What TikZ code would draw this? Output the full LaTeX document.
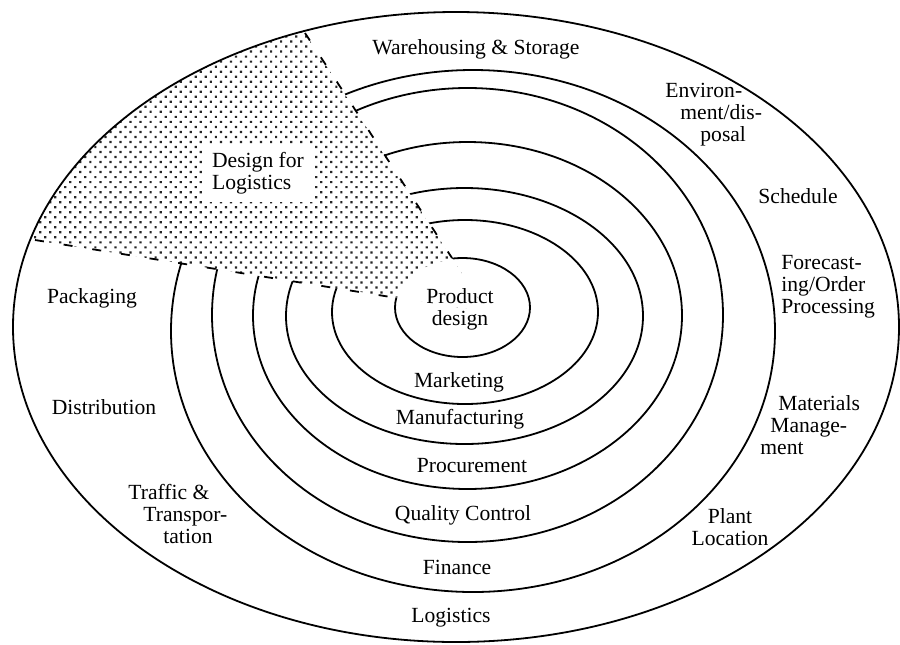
\documentclass[tikz,border=0pt]{standalone}
\usepackage{fontspec}
\setmainfont{Liberation Serif}
\usetikzlibrary{patterns.meta}
\begin{document}
\begin{tikzpicture}[x=0.5pt,y=-0.5pt,
  ring/.style={line width=0.9pt},
  lbl/.style={font=\fontsize{10.8}{11}\selectfont, inner sep=0pt, align=center},
  wedgeline/.style={line width=0.9pt, dash pattern=on 4.5pt off 10pt},
  dotfill/.style={pattern={Dots[distance=3.55pt, radius=0.78pt, angle=45]}, pattern color=black!85}]
\useasboundingbox (0,0) rectangle (900,644);

% corner points of the shaded sector
\coordinate (apex) at (487,312);
\coordinate (uo) at (305,33);
\coordinate (ui) at (452,258);
\coordinate (lo) at (35,240);
\coordinate (li) at (397,298);
\coordinate (ufar) at (250,-51);
\coordinate (lfar) at (-55,226);
\coordinate (cfar) at (-55,-51);

% the nested rings, innermost first
\draw[ring] (462.5,307.5) ellipse [x radius=67.5, y radius=49.5];
\draw[ring] (465,312) ellipse [x radius=133, y radius=92];
\draw[ring] (464.5,316) ellipse [x radius=178.5, y radius=128];
\draw[ring] (467.5,315.5) ellipse [x radius=214.5, y radius=173.5];
\draw[ring] (467.5,315) ellipse [x radius=255.5, y radius=227];
\draw[ring] (473,331) ellipse [x radius=302, y radius=261];

% shaded "design for logistics" sector
\begin{scope}
  \clip (456,327) ellipse [x radius=443, y radius=315];
  \fill[white] (apex) -- (ufar) -- (cfar) -- (lfar) -- cycle;
  \fill[dotfill] (apex) -- (ufar) -- (cfar) -- (lfar) -- cycle;
\end{scope}
\begin{scope}
  \clip (apex) -- (ufar) -- (cfar) -- (lfar) -- cycle;
  \fill[white] (462.5,307.5) ellipse [x radius=66.5, y radius=48.5];
\end{scope}
\draw[wedgeline] (uo) -- (ui);
\draw[wedgeline] (lo) -- (li);

% outer boundary
\draw[ring] (456,327) ellipse [x radius=443, y radius=315];

% labels
\node[lbl, fill=white, inner xsep=5pt, inner ysep=4pt, align=left] (dfl) at (258,173) {Design for\\Logistics};
\node[lbl] (ws) at (476,49) {Warehousing \& Storage};
\node[lbl, align=left, anchor=west] (env) at (665,115) {Environ-\\\hspace*{7.5pt}ment/dis-\\\hspace*{17.5pt}posal};
\node[lbl] (sch) at (798,196) {Schedule};
\node[lbl, align=left, anchor=west] (fop) at (781,287) {Forecast-\\ing/Order\\Processing};
\node[lbl, align=left, anchor=west] (mat) at (760,425) {\hspace*{9pt}Materials\\\hspace*{5pt}Manage-\\ment};
\node[lbl] (pl) at (730,527) {Plant\\Location};
\node[lbl] (pack) at (92,298) {Packaging};
\node[lbl] (dist) at (104,407) {Distribution};
\node[lbl, align=left, anchor=west] (tt) at (128,514) {Traffic \&\\\hspace*{7.5pt}Transpor-\\\hspace*{17.5pt}tation};
\node[lbl] (pd) at (460,309) {Product\\design};
\node[lbl] (mkt) at (459,382) {Marketing};
\node[lbl] (mfg) at (460,419) {Manufacturing};
\node[lbl] (proc) at (472,466) {Procurement};
\node[lbl] (qc) at (463,515) {Quality Control};
\node[lbl] (fin) at (457,567) {Finance};
\node[lbl] (log) at (451,618) {Logistics};
\end{tikzpicture}
\end{document}
